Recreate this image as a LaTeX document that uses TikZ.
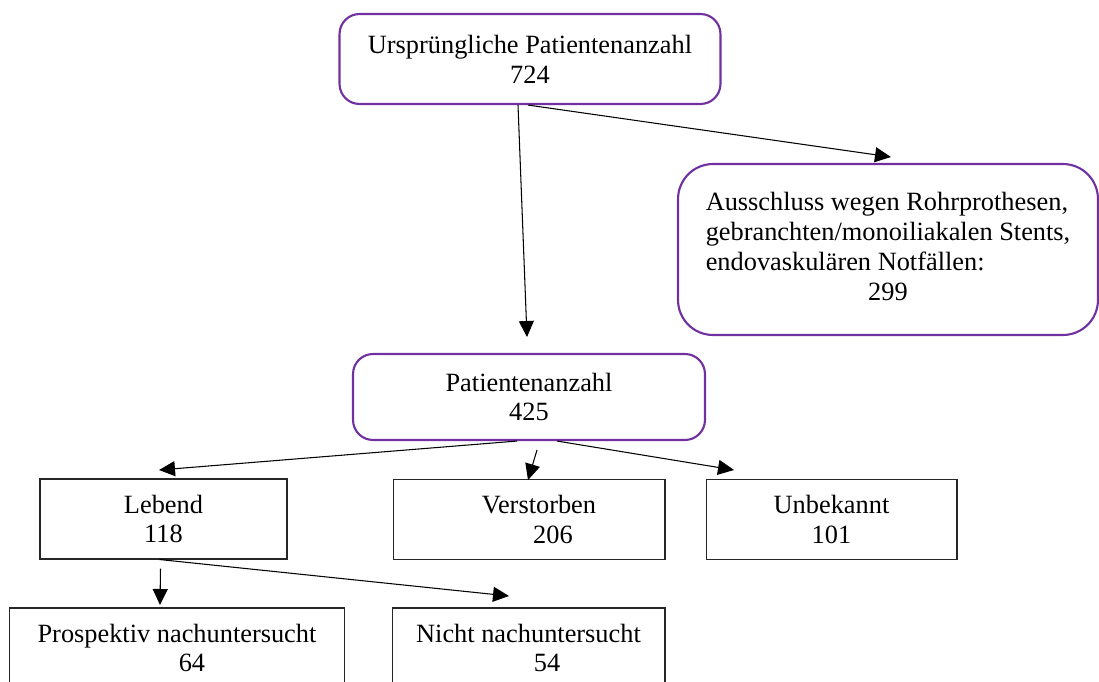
\documentclass[tikz,border=0pt]{standalone}
\usepackage{fontspec}
\setmainfont{Liberation Serif}
\usetikzlibrary{arrows.meta,calc}
\definecolor{boxpurple}{RGB}{112,48,160}
\tikzset{
  roundbox/.style={draw=boxpurple, line width=1.2pt, rounded corners=0.4cm, align=center, inner sep=0pt},
  plainbox/.style={draw=black!85, line width=0.6pt, align=center, inner sep=0pt, minimum height=1.6cm},
  arr/.style={-{Triangle[length=0.32cm,width=0.3cm]}, line width=0.6pt}
}
\begin{document}
\begin{tikzpicture}[x=0.02cm, y=-0.02cm, font=\fontsize{15pt}{17pt}\selectfont]
\useasboundingbox (0,0) rectangle (1099,682);
% upper part
\node[roundbox, minimum width=7.62cm, minimum height=1.8cm] (orig) at (530,59) {Ursprüngliche Patientenanzahl\\724};
\node[roundbox, rounded corners=0.7cm, minimum width=8.4cm, minimum height=3.42cm] (excl) at (888,249.5)
  {\begin{tabular}{@{}l@{}}Ausschluss wegen Rohrprothesen,\\gebranchten/monoiliakalen Stents,\\endovaskulären Notfällen:\\\multicolumn{1}{@{}c@{}}{299}\end{tabular}};
\node[roundbox, minimum width=7.04cm, minimum height=1.72cm] (count) at (529,397) {Patientenanzahl\\425};
% lower part
\node[plainbox, minimum width=4.94cm] (alive) at (163.5,519) {Lebend\\118};
\node[plainbox, minimum width=5.44cm] (dead) at (529,519.5) {\hspace*{0.4cm}Verstorben\\\hspace*{0.96cm}206};
\node[plainbox, minimum width=5.02cm] (unknown) at (831.5,519.5) {Unbekannt\\101};
\node[plainbox, minimum width=6.72cm] (prosp) at (177,648) {Prospektiv nachuntersucht\\\hspace*{0.6cm}64};
\node[plainbox, minimum width=5.46cm] (notex) at (528.5,648) {Nicht nachuntersucht\\\hspace*{0.74cm}54};
% arrow ends
\coordinate (toCount) at (527,337);
\coordinate (toExcl) at (891,157);
\coordinate (toAlive) at (159,470);
\coordinate (toDead) at (528,480);
\coordinate (toUnknown) at (734,470);
\coordinate (toProsp) at (160,605);
\coordinate (toNotex) at (509,596);
\draw[arr] ($(orig.south)+(-12,0)$) -- (toCount);
\draw[arr] ($(orig.south)+(-2,0)$) -- (toExcl);
\draw[arr] ($(count.south)+(-12,0)$) -- (toAlive);
\draw[arr] ($(count.south)+(8,9)$) -- (toDead);
\draw[arr] ($(count.south)+(28,0)$) -- (toUnknown);
\draw[arr] ($(alive.south)+(-3,9)$) -- (toProsp);
\draw[arr] ($(alive.south)+(-4,0)$) -- (toNotex);
\end{tikzpicture}
\end{document}
